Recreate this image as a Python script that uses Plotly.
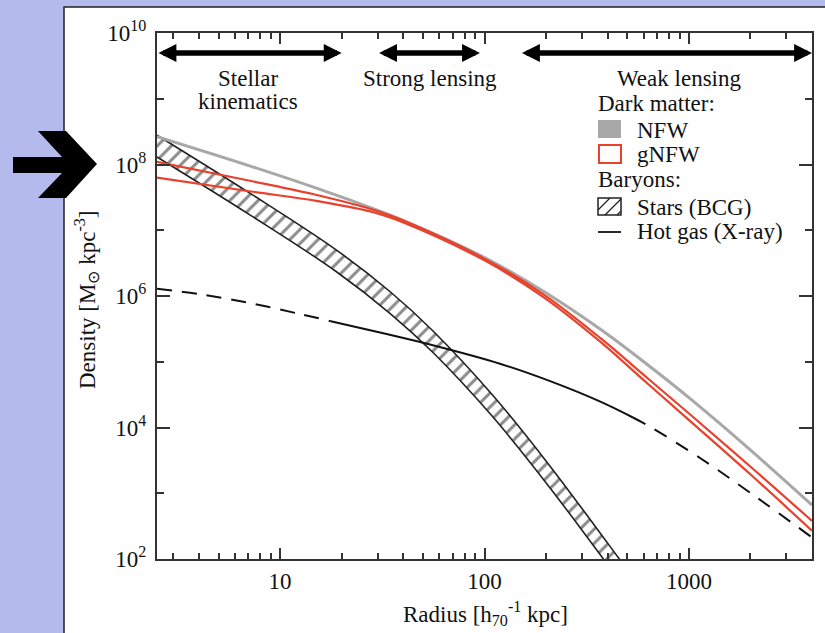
import numpy as np
import plotly.graph_objects as go

# ---- density profiles: radius [kpc], density [M_sun kpc^-3] ----
dm_r = [2.5, 7.21, 15.3, 29.4, 39.0, 100, 195, 372, 601, 1021, 2009, 4000]
nfw_rho = [2.65e8, 9.38e7, 4.29e7, 2.06e7, 1.46e7, 3.84e6, 1.17e6, 3.06e5,
           1.00e5, 2.70e4, 4.49e3, 662]
gnfw_rho_hi = [1.10e8, 5.61e7, 3.41e7, 2.00e7, 1.45e7, 3.69e6, 1.05e6, 2.24e5,
               6.31e4, 1.55e4, 2.51e3, 380]
gnfw_rho_lo = [6.30e7, 3.88e7, 2.77e7, 1.84e7, 1.36e7, 3.48e6, 9.55e5, 1.97e5,
               5.25e4, 1.23e4, 1.91e3, 269]

stars_r = [2.5, 7.21, 18.8, 34.8, 56.0, 110, 207, 406, 500]
stars_rho_hi = [2.79e8, 3.57e7, 5.04e6, 1.14e6, 2.94e5, 3.07e4, 2.70e3, 164, 68.2]
stars_rho_lo = [1.30e8, 1.67e7, 2.36e6, 5.32e5, 1.38e5, 1.44e4, 1.26e3, 76.9, 31.9]

gas_r = [2.5, 4.10, 7.21, 12.6, 17.7, 31.6, 54.7, 120, 211, 371, 532, 652,
         1143, 2009, 4000]
gas_rho = [1.29e6, 1.06e6, 7.74e5, 5.30e5, 4.14e5, 2.73e5, 1.81e5, 9.25e4,
           5.02e4, 2.45e4, 1.42e4, 1.01e4, 3.38e3, 1.00e3, 213]
xray_rmin, xray_rmax = 17.7, 532   # radial range measured directly in X-rays

# ---- radial regimes probed by each technique ----
regime_rmin = [2.5, 30, 150]
regime_rmax = [20, 95, 4000]

# ---- axes ----
x_range = [2.5, 4000]
y_range = [1e2, 1e10]
x_major = [10, 100, 1000]
x_minor = [3, 4, 5, 6, 7, 8, 9, 20, 30, 40, 50, 60, 70, 80, 90,
           200, 300, 400, 500, 600, 700, 800, 900, 2000, 3000]
y_major = [1e2, 1e4, 1e6, 1e8, 1e10]
y_major_text = ["10<sup>2</sup>", "10<sup>4</sup>", "10<sup>6</sup>",
                "10<sup>8</sup>", "10<sup>10</sup>"]
y_minor = [1e3, 1e5, 1e7, 1e9]

FONT = "Liberation Serif"
INK = "#111111"
AXIS = "#333333"
RED = "#e8412c"
GREY = "#a8a8a8"
LAVENDER = "#b4baec"

# figure geometry (pixels) used for decorations placed in paper coordinates
FIG_W, FIG_H = 825, 633
ML, MR, MT, MB = 157, 13, 33, 74
PW, PH = FIG_W - ML - MR, FIG_H - MT - MB


def px(x):
    return (x - ML) / PW


def py(y):
    return (FIG_H - MB - y) / PH


fig = go.Figure()

# stellar mass density of the BCG: hatched band
fig.add_trace(go.Scatter(x=stars_r, y=stars_rho_lo, mode="lines",
                         line=dict(color="#222", width=1.6, shape="spline"),
                         hoverinfo="skip"))
fig.add_trace(go.Scatter(x=stars_r, y=stars_rho_hi, mode="lines",
                         line=dict(color="#222", width=1.6, shape="spline"),
                         fill="tonexty", fillcolor="white",
                         fillpattern=dict(shape="/", fgcolor="#1a1a1a", bgcolor="white",
                                          size=10, solidity=0.3),
                         hoverinfo="skip"))

# hot gas: dashed where extrapolated, solid over the X-ray range
gas_r_arr = np.array(gas_r)
gas_rho_arr = np.array(gas_rho)
inner = gas_r_arr <= xray_rmin
middle = (gas_r_arr >= xray_rmin) & (gas_r_arr <= xray_rmax)
outer = gas_r_arr >= xray_rmax
for sel, dash in ((inner, "15px,10px"), (middle, "solid"), (outer, "14px,11px")):
    fig.add_trace(go.Scatter(x=gas_r_arr[sel], y=gas_rho_arr[sel], mode="lines",
                             line=dict(color="#111", width=2, dash=dash, shape="spline"),
                             hoverinfo="skip"))

# dark matter: NFW (grey) and generalised NFW (red outline band)
fig.add_trace(go.Scatter(x=dm_r, y=nfw_rho, mode="lines",
                         line=dict(color=GREY, width=3, shape="spline"),
                         hoverinfo="skip"))
for rho in (gnfw_rho_hi, gnfw_rho_lo):
    fig.add_trace(go.Scatter(x=dm_r, y=rho, mode="lines",
                             line=dict(color=RED, width=2.2, shape="spline"),
                             hoverinfo="skip"))

annotations = []
shapes = []

# white panel behind the chart and the pointer arrow on the left
shapes.append(dict(type="rect", xref="paper", yref="paper", layer="below",
                   x0=px(64), x1=px(830), y0=py(7), y1=py(640),
                   fillcolor="white", line=dict(color="#222", width=1.5)))
arrow_pts = [(13, 157), (62, 157), (38, 131), (66, 131), (97, 164),
             (66, 198), (38, 198), (62, 173), (13, 173)]
path = "M " + " L ".join(f"{px(a):.5f},{py(b):.5f}" for a, b in arrow_pts) + " Z"
shapes.append(dict(type="path", xref="paper", yref="paper", path=path,
                   fillcolor="black", line=dict(color="black", width=0), layer="above"))

# double-headed arrows marking each regime
ARROW_LOGY = 2 + (FIG_H - MB - 53) / (PH / 8)
for r0, r1 in zip(regime_rmin, regime_rmax):
    annotations.append(dict(x=np.log10(r1), y=ARROW_LOGY, ax=np.log10(r0), ay=ARROW_LOGY,
                            xref="x", yref="y", axref="x", ayref="y", text="",
                            showarrow=True, arrowside="end+start",
                            arrowhead=2, startarrowhead=2,
                            arrowsize=0.65, startarrowsize=0.65,
                            arrowwidth=5.5, arrowcolor="black"))

regime_labels = [("Stellar", 248, 78), ("kinematics", 248, 101),
                 ("Strong lensing", 430, 79), ("Weak lensing", 679, 78)]
for txt, x, y in regime_labels:
    annotations.append(dict(text=txt, x=px(x), y=py(y), xref="paper", yref="paper",
                            showarrow=False, xanchor="center", yanchor="middle",
                            font=dict(family=FONT, size=23, color=INK)))

# legend drawn as swatches and text
legend_text = [("Dark matter:", 598, 103), ("NFW", 637, 130), ("gNFW", 637, 154),
               ("Baryons:", 598, 179), ("Stars (BCG)", 637, 207),
               ("Hot gas (X-ray)", 637, 232)]
for txt, x, y in legend_text:
    annotations.append(dict(text=txt, x=px(x), y=py(y), xref="paper", yref="paper",
                            showarrow=False, xanchor="left", yanchor="middle",
                            xshift=-2,
                            font=dict(family=FONT, size=23, color=INK)))

shapes.append(dict(type="rect", xref="paper", yref="paper", x0=px(598), x1=px(621),
                   y0=py(138), y1=py(120), fillcolor=GREY, line=dict(width=0)))
shapes.append(dict(type="rect", xref="paper", yref="paper", x0=px(599), x1=px(621),
                   y0=py(163), y1=py(145), fillcolor="white",
                   line=dict(color=RED, width=2)))
shapes.append(dict(type="rect", xref="paper", yref="paper", x0=px(598), x1=px(621),
                   y0=py(215), y1=py(198), fillcolor="white",
                   line=dict(color="#222", width=1.5)))
for (a, b), (c, d) in [((598, 210), (610, 198)), ((605, 215), (621, 199)),
                       ((617, 215), (621, 211))]:
    shapes.append(dict(type="line", xref="paper", yref="paper",
                       x0=px(a), y0=py(b), x1=px(c), y1=py(d),
                       line=dict(color="#222", width=1.3)))
shapes.append(dict(type="line", xref="paper", yref="paper", x0=px(598), x1=px(621),
                   y0=py(232), y1=py(232), line=dict(color="#111", width=1.8)))

# axis titles
annotations.append(dict(text="Radius [h<sub>70</sub><sup>-1</sup> kpc]",
                        x=px(485), y=py(613), xref="paper", yref="paper",
                        showarrow=False, xanchor="center", yanchor="middle",
                        font=dict(family=FONT, size=23, color=INK)))
annotations.append(dict(text="Density [M<sub>\u2299</sub> kpc<sup>-3</sup>]",
                        x=px(86), y=py(300), xref="paper", yref="paper",
                        showarrow=False, textangle=-90, xanchor="center", yanchor="middle",
                        font=dict(family=FONT, size=23, color=INK)))

tick_common = dict(ticks="inside", tickcolor=AXIS, tickwidth=1.6,
                   showline=True, linecolor=AXIS, linewidth=2, mirror="allticks",
                   showgrid=False, zeroline=False,
                   tickfont=dict(family=FONT, size=23, color=INK))

fig.update_layout(
    width=FIG_W, height=FIG_H,
    margin=dict(l=ML, r=MR, t=MT, b=MB),
    paper_bgcolor=LAVENDER, plot_bgcolor="white",
    showlegend=False,
    font=dict(family=FONT, size=23, color=INK),
    xaxis=dict(type="log", range=[np.log10(x_range[0]), np.log10(x_range[1])],
               tickmode="array", tickvals=x_major, ticktext=[str(v) for v in x_major],
               ticklen=11,
               minor=dict(tickmode="array", tickvals=x_minor, ticks="inside",
                          ticklen=6, tickwidth=1.6, tickcolor=AXIS, showgrid=False),
               **tick_common),
    yaxis=dict(type="log", range=[np.log10(y_range[0]), np.log10(y_range[1])],
               tickmode="array", tickvals=y_major, ticktext=y_major_text,
               ticklen=13, ticklabelstandoff=4,
               minor=dict(tickmode="array", tickvals=y_minor, ticks="inside",
                          ticklen=7, tickwidth=1.6, tickcolor=AXIS, showgrid=False),
               **tick_common),
    shapes=shapes,
    annotations=annotations,
)

fig.write_html("out.html")
